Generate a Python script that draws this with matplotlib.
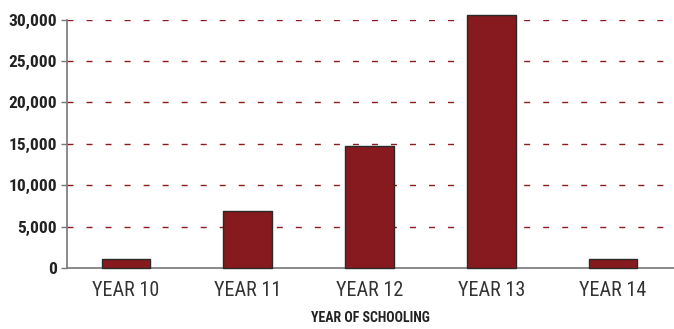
import matplotlib
matplotlib.use("Agg")
import matplotlib.pyplot as plt

# Students by year of schooling
categories = ["YEAR 10", "YEAR 11", "YEAR 12", "YEAR 13", "YEAR 14"]
students = [1100, 6900, 14700, 30500, 1100]
yticks = [0, 5000, 10000, 15000, 20000, 25000, 30000]

BAR_RED = "#861a1f"
GRID_RED = "#8b1a1a"

# Narrow gothic face, falling back to the defaults
plt.rcParams["font.family"] = ["Roboto Condensed", "Archivo Narrow", "DejaVu Sans"]

fig = plt.figure(figsize=(6.74, 3.29), dpi=100)
ax = fig.add_axes([0.1001, 0.1854, 0.8999, 0.755])

x = range(len(categories))
ax.bar(x, students, width=0.4, color=BAR_RED, edgecolor="#2a2a2a",
       linewidth=1.0, zorder=3, clip_on=False)

ax.set_xlim(-0.48, 4.5)
ax.set_ylim(0, 30000)
ax.set_yticks(yticks)
ax.set_yticklabels([f"{v:,}" for v in yticks], fontsize=12.5, fontweight="bold",
                   color="#222222")
ax.set_xticks(list(x))
ax.set_xticklabels(categories, fontsize=14.5, color="#333333")

# dashed reference lines every 5,000 behind the bars
for v in yticks[1:]:
    ax.axhline(v, color=GRID_RED, linewidth=1.0, dashes=(4.3, 9.4), zorder=1)

for side in ("top", "right"):
    ax.spines[side].set_visible(False)
for side in ("left", "bottom"):
    ax.spines[side].set_color("#777777")
    ax.spines[side].set_linewidth(1.2)

ax.tick_params(axis="y", length=4, width=1.0, color="#777777", pad=3.6)
ax.tick_params(axis="x", length=0, pad=9.5)

ax.set_xlabel("YEAR OF SCHOOLING", fontsize=10, fontweight="bold",
              color="#222222", labelpad=8)

fig.savefig("out.png", dpi=100)
